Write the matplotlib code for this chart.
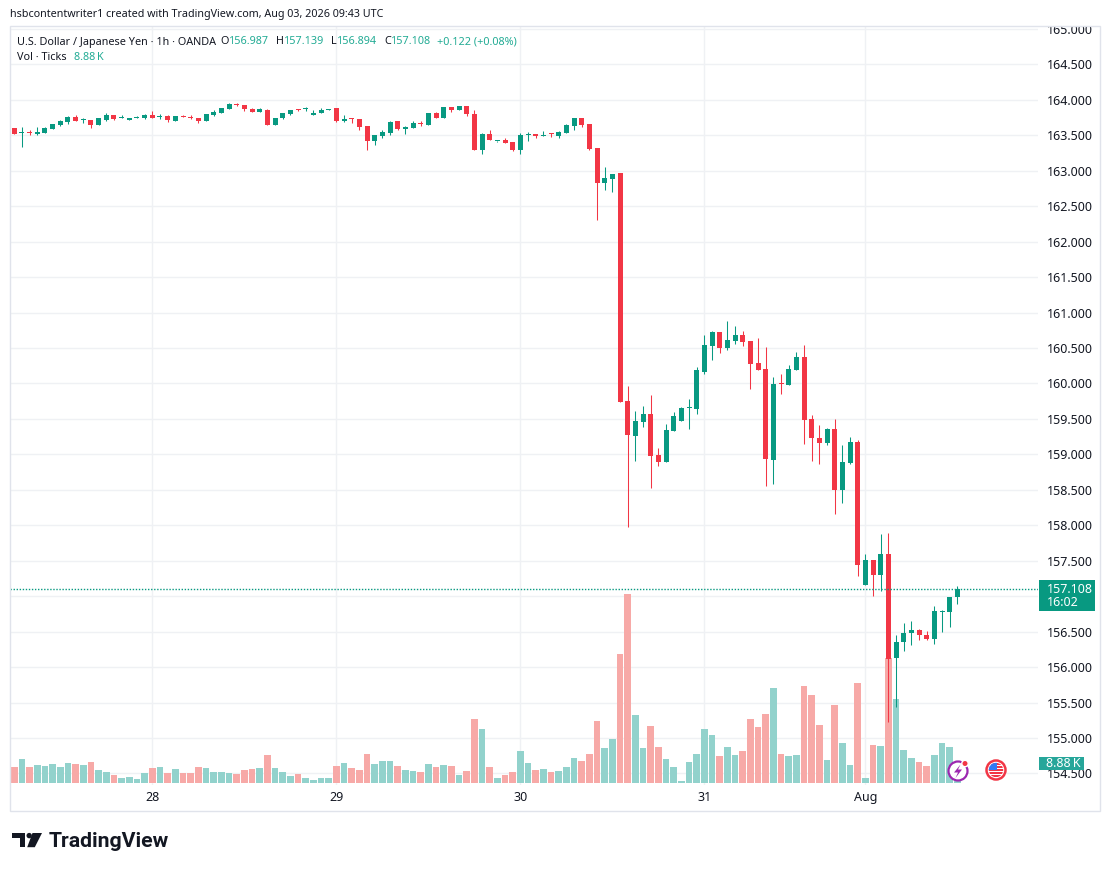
import matplotlib
matplotlib.use('Agg')
import matplotlib.pyplot as plt
import matplotlib.transforms as mtrans
from matplotlib.patches import Rectangle, Circle, Polygon
import numpy as np

plt.rcParams['font.family'] = ['Noto Sans', 'DejaVu Sans']

# ---------------- data (USD/JPY 1h, OANDA) ----------------
opens = [163.598, 163.528, 163.533, 163.514, 163.528, 163.589, 163.640, 163.682, 163.752, 163.720,
         163.720, 163.645, 163.720, 163.780, 163.750, 163.715, 163.750, 163.743, 163.780, 163.760,
         163.776, 163.700, 163.768, 163.754, 163.748, 163.700, 163.780, 163.813, 163.869, 163.930,
         163.930, 163.874, 163.827, 163.864, 163.645, 163.743, 163.800, 163.862, 163.867, 163.780,
         163.813, 163.855, 163.879, 163.696, 163.740, 163.724, 163.626, 163.420, 163.486, 163.533,
         163.696, 163.589, 163.607, 163.666, 163.645, 163.813, 163.743, 163.893, 163.855, 163.907,
         163.805, 163.300, 163.514, 163.423, 163.430, 163.400, 163.300, 163.507, 163.514, 163.494,
         163.516, 163.486, 163.533, 163.631, 163.739, 163.655, 163.317, 162.829, 162.880, 162.965,
         159.750, 159.265, 159.460, 159.575, 158.998, 158.886, 159.335, 159.476, 159.650, 159.645,
         160.166, 160.531, 160.728, 160.503, 160.600, 160.686, 160.600, 160.290, 160.200, 158.914,
         159.997, 159.980, 160.194, 160.376, 159.505, 159.237, 159.157, 159.364, 158.495, 158.885,
         159.181, 157.157, 157.514, 157.298, 157.589, 156.129, 156.354, 156.481, 156.528, 156.458,
         156.397, 156.780, 156.777, 156.987]
highs = [163.607, 163.617, 163.570, 163.612, 163.612, 163.654, 163.710, 163.770, 163.785, 163.738,
         163.720, 163.738, 163.808, 163.780, 163.780, 163.738, 163.766, 163.794, 163.850, 163.794,
         163.785, 163.766, 163.780, 163.780, 163.748, 163.794, 163.864, 163.879, 163.949, 163.949,
         163.930, 163.883, 163.888, 163.874, 163.748, 163.818, 163.860, 163.874, 163.897, 163.860,
         163.888, 163.874, 163.879, 163.780, 163.748, 163.724, 163.626, 163.500, 163.579, 163.696,
         163.696, 163.631, 163.696, 163.696, 163.818, 163.827, 163.893, 163.893, 163.907, 163.907,
         163.860, 163.528, 163.570, 163.427, 163.458, 163.400, 163.528, 163.540, 163.514, 163.556,
         163.528, 163.556, 163.655, 163.739, 163.739, 163.655, 163.317, 163.049, 162.960, 162.965,
         159.965, 159.617, 159.687, 159.842, 159.097, 159.434, 159.600, 159.673, 159.786, 160.226,
         160.686, 160.742, 160.728, 160.883, 160.812, 160.742, 160.600, 160.644, 160.517, 160.095,
         160.140, 160.264, 160.447, 160.545, 159.560, 159.420, 159.378, 159.505, 159.138, 159.251,
         159.209, 157.589, 157.514, 157.871, 157.885, 156.458, 156.627, 156.646, 156.542, 156.514,
         156.857, 156.800, 156.986, 157.139]
lows = [163.519, 163.336, 163.505, 163.505, 163.528, 163.589, 163.631, 163.659, 163.696, 163.668,
        163.603, 163.645, 163.696, 163.710, 163.743, 163.715, 163.743, 163.729, 163.743, 163.734,
        163.687, 163.700, 163.757, 163.724, 163.673, 163.700, 163.770, 163.813, 163.869, 163.911,
        163.850, 163.827, 163.827, 163.645, 163.645, 163.729, 163.785, 163.841, 163.841, 163.780,
        163.813, 163.855, 163.682, 163.682, 163.678, 163.580, 163.290, 163.370, 163.463, 163.510,
        163.570, 163.519, 163.603, 163.636, 163.645, 163.743, 163.743, 163.836, 163.855, 163.771,
        163.300, 163.230, 163.430, 163.406, 163.392, 163.272, 163.230, 163.415, 163.458, 163.490,
        163.476, 163.462, 163.533, 163.570, 163.613, 163.290, 162.303, 162.725, 162.700, 159.744,
        157.969, 158.904, 159.380, 158.525, 158.843, 158.886, 159.335, 159.476, 159.364, 159.575,
        160.137, 160.334, 160.433, 160.475, 160.560, 160.531, 159.926, 160.190, 158.548, 158.576,
        159.850, 159.980, 160.194, 159.143, 158.913, 158.860, 159.130, 158.157, 158.312, 158.871,
        157.284, 157.157, 157.000, 157.070, 155.228, 155.439, 156.228, 156.312, 156.383, 156.383,
        156.326, 156.495, 156.566, 156.894]
closes = [163.519, 163.533, 163.528, 163.542, 163.598, 163.654, 163.696, 163.757, 163.696, 163.724,
          163.645, 163.738, 163.785, 163.724, 163.752, 163.738, 163.752, 163.780, 163.743, 163.762,
          163.720, 163.766, 163.764, 163.750, 163.696, 163.794, 163.836, 163.879, 163.935, 163.926,
          163.869, 163.827, 163.874, 163.645, 163.748, 163.808, 163.860, 163.858, 163.869, 163.818,
          163.864, 163.874, 163.696, 163.734, 163.736, 163.617, 163.420, 163.500, 163.542, 163.682,
          163.589, 163.617, 163.673, 163.662, 163.808, 163.743, 163.893, 163.855, 163.907, 163.804,
          163.300, 163.514, 163.430, 163.427, 163.392, 163.300, 163.500, 163.510, 163.486, 163.497,
          163.512, 163.542, 163.641, 163.739, 163.646, 163.303, 162.829, 162.894, 162.960, 159.744,
          159.279, 159.476, 159.575, 158.984, 158.886, 159.350, 159.547, 159.660, 159.656, 160.194,
          160.545, 160.728, 160.503, 160.616, 160.686, 160.587, 160.278, 160.190, 158.928, 159.997,
          159.990, 160.208, 160.376, 159.490, 159.228, 159.157, 159.364, 158.495, 158.899, 159.181,
          157.439, 157.514, 157.298, 157.589, 156.115, 156.359, 156.486, 156.528, 156.453, 156.397,
          156.786, 156.786, 156.986, 157.108]
volumes_k = [7.10, 10.66, 7.10, 7.99, 7.55, 8.44, 7.10, 8.88, 8.44, 7.99,
             9.32, 5.77, 4.88, 3.55, 2.22, 2.66, 1.78, 4.44, 6.66, 7.10,
             4.44, 6.22, 4.44, 4.44, 7.10, 6.66, 4.88, 4.88, 4.44, 4.00,
             5.77, 6.22, 6.66, 12.43, 6.66, 4.88, 3.11, 4.00, 2.22, 1.33,
             2.22, 2.22, 7.55, 8.88, 6.66, 5.77, 12.88, 8.44, 9.77, 9.77,
             7.55, 5.77, 5.33, 4.88, 8.44, 7.10, 7.99, 7.55, 3.55, 5.33,
             28.42, 23.98, 7.10, 2.22, 3.55, 4.88, 14.21, 8.88, 5.77, 6.22,
             4.88, 5.33, 7.10, 11.10, 9.77, 12.88, 27.53, 15.54, 19.54, 57.28,
             83.92, 30.19, 15.54, 25.31, 15.98, 10.66, 7.10, 0.89, 9.32, 12.88,
             23.98, 21.31, 11.99, 15.98, 12.43, 14.21, 28.42, 24.86, 30.64, 42.18,
             12.88, 11.99, 12.43, 43.07, 39.07, 25.75, 10.21, 34.63, 17.76, 7.99,
             44.40, 2.22, 16.87, 16.43, 55.50, 37.30, 14.65, 11.10, 9.32, 7.55,
             12.43, 17.76, 15.98, 8.88]
day_ticks = [18, 42, 66, 90, 111]
day_labels = ['28', '29', '30', '31', 'Aug']
price_ticks = [154.5, 155.0, 155.5, 156.0, 156.5, 157.0, 157.5, 158.0, 158.5, 159.0, 159.5,
               160.0, 160.5, 161.0, 161.5, 162.0, 162.5, 163.0, 163.5, 164.0, 164.5, 165.0]
symbol = 'U.S. Dollar / Japanese Yen \u00b7 1h \u00b7 OANDA'
countdown = '16:02'

# ---------------- style ----------------
UP, DOWN = '#089981', '#f23645'
VUP, VDOWN = '#92d2cc', '#f7a9a7'
TXT = '#131722'
TEAL_TXT = '#22ab94'
GRID = '#eff1f4'

W, H = 1110, 871
fig = plt.figure(figsize=(W / 100, H / 100), dpi=100)
Lp, Rp, Tp, Bp = 10, 1038, 26, 785
rect = [Lp / W, 1 - Bp / H, (Rp - Lp) / W, (Bp - Tp) / H]

ax = fig.add_axes(rect, zorder=0)
axv = ax.twinx()
axv.set_zorder(1)
axv.patch.set_visible(False)
axc = fig.add_axes(rect, sharex=ax, sharey=ax, zorder=2)
axc.axis('off')

n = len(opens)
idx = np.arange(n)
o = np.array(opens); h = np.array(highs); l = np.array(lows); c = np.array(closes)
up = c >= o
last = closes[-1]

ax.set_xlim(-0.561, 133.5)
ax.set_ylim(154.337, 165.042)
axv.set_ylim(-0.89, 336.1)

for a in (ax, axv):
    for s in a.spines.values():
        s.set_visible(False)
axv.set_yticks([])

ax.set_yticks(price_ticks)
# the tick label that sits under the last-price box is hidden, as on the reference
ax.set_yticklabels(['' if abs(v - last) < 0.25 else '%.3f' % v for v in price_ticks])
ax.yaxis.tick_right()
ax.tick_params(axis='y', length=0, pad=6.5, labelsize=9, labelcolor=TXT)
ax.set_xticks(day_ticks)
ax.set_xticklabels(day_labels)
ax.tick_params(axis='x', length=0, pad=4.5, labelsize=9, labelcolor=TXT)
ax.grid(True, color=GRID, lw=1)
ax.set_axisbelow(True)

# volume
axv.bar(idx, volumes_k, width=0.87, color=np.where(up, VUP, VDOWN), linewidth=0)

# candles
cols = np.where(up, UP, DOWN)
axc.vlines(idx, l, h, colors=cols, linewidth=0.75)
body_lo = np.minimum(o, c)
body_h = np.maximum(np.abs(c - o), 0.0141)
axc.bar(idx, body_h, bottom=body_lo, width=0.652, color=cols, linewidth=0)

axc.axhline(last, color=UP, lw=1.0, ls=(0, (1, 1.2)))

# price label box on axis
tr = mtrans.blended_transform_factory(ax.transAxes, ax.transData)
ppu = (Bp - Tp) / (165.042 - 154.337)  # pixels per price unit
axc.add_patch(Rectangle((1029 / 1028, last - 22.5 / ppu), 56 / 1028, 31 / ppu,
                        transform=tr, facecolor=UP, edgecolor='none', clip_on=False, zorder=5))
axc.text(1037 / 1028, last - 7.2 / ppu, '%.3f\n%s' % (last, countdown), transform=tr,
         color='white', fontsize=9, va='center', ha='left', linespacing=0.98,
         clip_on=False, zorder=6)

# volume label box
trv = mtrans.blended_transform_factory(axv.transAxes, axv.transData)
vpu = (Bp - Tp) / (336.1 + 0.89)
lastv = volumes_k[-1]
vtxt = '%.2f\u2009K' % lastv
axv.add_patch(Rectangle((1029 / 1028, lastv - 7 / vpu), 45 / 1028, 13 / vpu, transform=trv,
                        facecolor='#26a69a', edgecolor='none', clip_on=False, zorder=5))
axv.text(1036.5 / 1028, lastv - 1 / vpu, vtxt, transform=trv, color='white', fontsize=9,
         va='center', ha='left', clip_on=False, zorder=6, family=['Noto Sans', 'DejaVu Sans'])

# ---------------- overlay (header, border, icons, logo) ----------------
ov = fig.add_axes([0, 0, 1, 1], zorder=10)
ov.set_xlim(0, W)
ov.set_ylim(H, 0)
ov.axis('off')

ov.add_patch(Rectangle((1039, 12), 60, 14, facecolor='white', edgecolor='none', zorder=1))
ov.add_patch(Rectangle((10, 26.5), 1090, 784, fill=False, edgecolor='#e0e3eb', lw=1, zorder=2))

renderer = fig.canvas.get_renderer()


def fit(x, y, s, target_w, size=9, **kw):
    t = ov.text(x, y, s, fontsize=size, va='center', ha='left', **kw)
    w = t.get_window_extent(renderer).width
    if w > 0:
        t.set_fontsize(size * target_w / w)
    return t


def flow(x, y, parts, size):
    for s, col, gap in parts:
        t = ov.text(x, y, s, fontsize=size, color=col, va='center', ha='left')
        x += t.get_window_extent(renderer).width + gap
    return x


fit(10, 15, 'hsbcontentwriter1 created with TradingView.com, Aug 03, 2026 09:43 UTC', 373, color=TXT)
probe = fit(-500, -500, '%.3f' % lows[-1], 40)
fs = probe.get_fontsize()
probe.remove()
chg = closes[-1] - closes[-2]
pct = chg / closes[-2] * 100
parts1 = [(symbol, TXT, 4), ('O', TXT, 0.3), ('%.3f' % opens[-1], TEAL_TXT, 7),
          ('H', TXT, 0.3), ('%.3f' % highs[-1], TEAL_TXT, 7),
          ('L', TXT, 0.3), ('%.3f' % lows[-1], TEAL_TXT, 7),
          ('C', TXT, 0.3), ('%.3f' % closes[-1], TEAL_TXT, 5),
          ('%+.3f (%+.2f%%)' % (chg, pct), TEAL_TXT, 0)]
flow(17, 42, parts1, fs)
flow(17, 58, [('Vol \u00b7 Ticks', TXT, 7), (vtxt, TEAL_TXT, 0)], fs)

# icons near bottom-right
ov.add_patch(Circle((958, 771), 9.5, facecolor='white', edgecolor='#9c27b0', lw=1.6, zorder=3))
ov.add_patch(Polygon([(960.5, 764.5), (954, 772.5), (958, 772.5), (955.5, 778), (962, 769.5),
                      (958, 769.5)], closed=True, facecolor='#9c27b0', edgecolor='none', zorder=4))
ov.add_patch(Circle((965, 763.5), 3.2, facecolor='#f23645', edgecolor='white', lw=1, zorder=5))

ov.add_patch(Circle((996, 770), 9.5, facecolor='white', edgecolor='#f23645', lw=1.8, zorder=3))
inner = Circle((996, 770), 7.2, transform=ov.transData)
for yy in [763, 766, 769, 772, 775]:
    p = ov.add_patch(Rectangle((988, yy), 16, 1.6, facecolor='#f23645', edgecolor='none', zorder=4))
    p.set_clip_path(inner)
pc = ov.add_patch(Rectangle((988, 762), 8.5, 8, facecolor='#3179f5', edgecolor='none', zorder=5))
pc.set_clip_path(inner)

# TradingView logo
ov.add_patch(Rectangle((12, 833), 13.3, 5.2, facecolor=TXT, edgecolor='none'))
ov.add_patch(Rectangle((19.6, 833), 5.7, 14.2, facecolor=TXT, edgecolor='none'))
ov.add_patch(Circle((29.2, 835.6), 2.7, facecolor=TXT, edgecolor='none'))
ov.add_patch(Polygon([(32.5, 833), (42, 833), (34.8, 847.2), (27.2, 847.2)], closed=True,
                     facecolor=TXT, edgecolor='none'))
lt = ov.text(48.5, 841, 'TradingView', fontsize=14, va='center', ha='left', color=TXT,
             weight='bold', family=['Roboto', 'Noto Sans', 'DejaVu Sans'])
lw_ = lt.get_window_extent(renderer).width
lt.set_fontsize(14 * 121 / lw_)

fig.savefig('out.png', dpi=100, facecolor='white')
